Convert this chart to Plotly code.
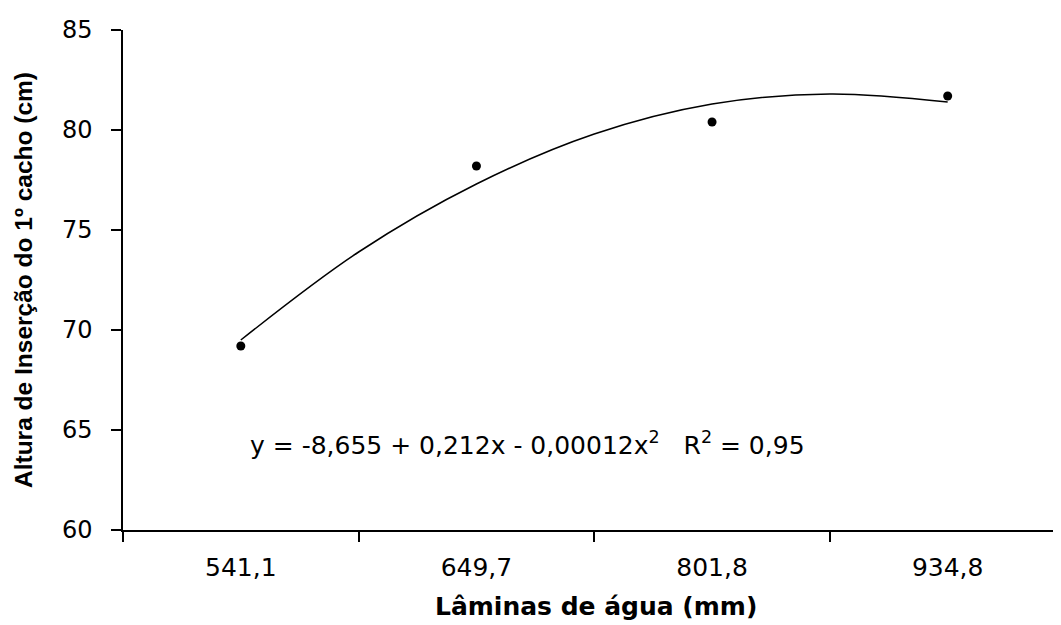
import plotly.graph_objects as go

# Data
categories = ["541,1", "649,7", "801,8", "934,8"]          # Lâminas de água (mm)
observed = [69.2, 78.2, 80.4, 81.7]                          # Altura de inserção (cm)
# quadratic trend line as drawn (at half-category steps)
trend_index = [0, 0.5, 1, 1.5, 2, 2.5, 3]
trend_values = [69.5, 73.9, 77.3, 79.8, 81.3, 81.8, 81.4]
y_ticks = [60, 65, 70, 75, 80, 85]
equation = "y = -8,655 + 0,212x - 0,00012x<sup>2</sup>&nbsp;&nbsp;&nbsp;R<sup>2</sup> = 0,95"
x_title = "Lâminas de água (mm)"
y_title = "Altura de Inserção do 1º cacho (cm)"

cat_index = list(range(len(categories)))

fig = go.Figure()
fig.add_trace(go.Scatter(
    x=trend_index, y=trend_values, mode="lines",
    line=dict(color="black", width=1.5, shape="spline", smoothing=1.0),
    showlegend=False, hoverinfo="skip"))
fig.add_trace(go.Scatter(
    x=cat_index, y=observed, mode="markers",
    marker=dict(color="black", size=9, symbol="circle"),
    showlegend=False))

tick_font = dict(family="DejaVu Sans", size=24, color="black")

# page body has an 8px margin: figure is 8px smaller so it fits the window
fig.update_layout(
    width=1053, height=617, autosize=False,
    margin=dict(l=115, r=0, t=22, b=95, pad=0),
    paper_bgcolor="white", plot_bgcolor="white",
    xaxis=dict(
        range=[-0.5, 3.481],
        tickmode="array", tickvals=cat_index, ticktext=categories,
        ticks="", showgrid=False, zeroline=False,
        showline=True, linecolor="black", linewidth=1.5,
        tickfont=dict(family="DejaVu Sans", size=25, color="black"),
        ticklabelstandoff=14,
        minor=dict(tickmode="array", tickvals=[-0.5, 0.5, 1.5, 2.5, 3.5],
                   ticks="outside", ticklen=10, tickwidth=1.5, tickcolor="black",
                   showgrid=False),
    ),
    yaxis=dict(
        range=[60, 85], tickmode="array", tickvals=y_ticks,
        ticks="outside", ticklen=10, tickwidth=1.5, tickcolor="black",
        showgrid=False, zeroline=False,
        showline=True, linecolor="black", linewidth=1.5,
        tickfont=tick_font, ticklabelstandoff=14,
    ),
    annotations=[
        dict(text=equation, xref="paper", yref="y",
             x=(248 - 123) / 938, y=64.35, xanchor="left", yanchor="middle",
             showarrow=False, font=dict(family="DejaVu Sans", size=25, color="black")),
        dict(text="<b>" + x_title + "</b>", xref="paper", yref="paper",
             x=(596 - 123) / 938, y=(530 - 606) / 500, xanchor="center", yanchor="middle",
             showarrow=False, font=dict(family="DejaVu Sans", size=25, color="black")),
        dict(text="<b>" + y_title + "</b>", xref="paper", yref="paper",
             x=(23 - 123) / 938, y=0.5, xanchor="center", yanchor="middle",
             textangle=-90, showarrow=False,
             font=dict(family="Liberation Sans", size=24.5, color="black")),
    ],
)

fig.write_html("out.html")
